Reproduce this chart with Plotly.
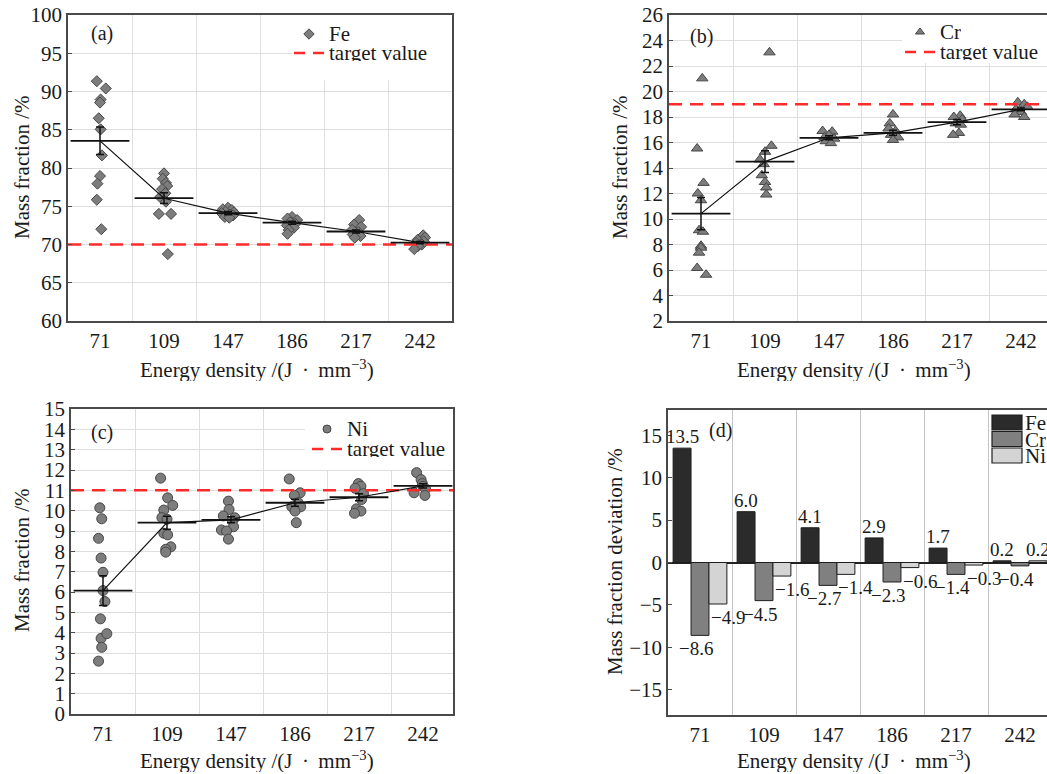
import plotly.graph_objects as go

W, H = 1047, 774
FONT = "Liberation Serif"
TXT = "#1a1a1a"

# ---------------- data ----------------
categories = ["71", "109", "147", "186", "217", "242"]

fe_points = [
    [91.35, 90.4, 88.95, 88.55, 86.5, 85.05, 81.65, 78.95, 77.95, 75.85, 72.0],
    [79.3, 78.6, 78.05, 77.65, 77.25, 76.7, 76.2, 75.6, 74.0, 74.0, 68.75],
    [74.8, 74.6, 74.5, 74.3, 74.2, 74.1, 73.9, 73.8, 73.6, 73.5],
    [73.6, 73.4, 73.2, 72.9, 72.7, 72.5, 72.2, 71.9, 71.4],
    [73.2, 72.6, 72.3, 71.9, 71.6, 71.3, 71.1, 70.9],
    [71.2, 70.9, 70.6, 70.4, 70.2, 70.0, 69.8, 69.4],
]
fe_jitter = [
    [-0.05, 0.09, 0.01, 0.0, -0.02, 0.01, 0.03, 0.0, -0.04, -0.05, 0.02],
    [0.0, -0.02, 0.03, 0.05, -0.03, 0.02, -0.06, 0.03, -0.08, 0.11, 0.06],
    [0.0, -0.08, 0.06, -0.04, 0.09, -0.1, 0.03, 0.08, -0.05, 0.02],
    [0.0, -0.07, 0.08, -0.03, 0.05, -0.08, 0.03, -0.05, -0.07],
    [0.05, -0.03, 0.08, -0.06, 0.04, -0.05, 0.07, -0.02],
    [0.05, 0.08, -0.04, 0.06, -0.06, 0.03, -0.03, -0.09],
]
fe_mean = [83.55, 76.05, 74.1, 72.85, 71.7, 70.25]
fe_err = [1.8, 0.7, 0.2, 0.2, 0.2, 0.15]
fe_target = 70

cr_points = [
    [21.03, 15.53, 12.83, 12.0, 11.47, 9.12, 9.0, 7.9, 7.75, 7.36, 6.16, 5.63],
    [23.07, 15.74, 15.27, 14.67, 14.3, 13.43, 12.9, 12.47, 11.92],
    [16.9, 16.85, 16.6, 16.4, 16.3, 16.1, 15.95],
    [18.2, 17.5, 17.1, 16.9, 16.6, 16.4, 16.2],
    [18.1, 18.0, 17.8, 17.5, 17.4, 16.75, 16.6],
    [19.15, 19.0, 18.8, 18.6, 18.4, 18.2, 18.0],
]
cr_jitter = [
    [0.02, -0.06, 0.04, -0.05, 0.0, -0.03, 0.03, 0.0, 0.0, -0.03, -0.06, 0.08],
    [0.07, 0.1, 0.0, -0.08, -0.02, -0.05, 0.0, 0.02, 0.02],
    [-0.1, 0.05, 0.0, -0.07, 0.08, -0.05, 0.03],
    [0.0, -0.05, -0.07, 0.04, -0.03, 0.08, 0.0],
    [0.05, -0.05, 0.08, -0.02, 0.06, 0.03, -0.06],
    [-0.05, 0.05, 0.1, -0.08, 0.0, -0.1, 0.05],
]
cr_mean = [10.42, 14.5, 16.37, 16.76, 17.6, 18.6]
cr_err = [1.27, 0.85, 0.15, 0.2, 0.2, 0.1]
cr_target = 19

ni_points = [
    [10.14, 9.6, 8.64, 7.67, 6.97, 6.07, 5.53, 4.68, 3.72, 3.95, 3.28, 2.6],
    [11.6, 10.63, 10.26, 10.03, 9.66, 9.58, 8.89, 8.81, 8.22, 8.1, 7.96],
    [10.47, 10.06, 9.74, 9.65, 9.5, 9.21, 9.05, 9.0, 8.6],
    [11.56, 10.88, 10.75, 10.39, 10.19, 10.19, 9.98, 9.41],
    [11.33, 11.2, 11.1, 10.84, 10.55, 10.09, 9.98, 9.87],
    [11.87, 11.53, 11.33, 11.2, 11.07, 10.88, 10.75],
]
ni_jitter = [
    [-0.05, -0.02, -0.07, -0.03, 0.0, 0.0, 0.03, -0.04, -0.03, 0.06, -0.02, -0.07],
    [-0.1, 0.01, 0.09, -0.05, -0.08, 0.0, -0.05, 0.01, 0.06, -0.02, -0.02],
    [-0.04, -0.03, -0.12, 0.06, 0.02, 0.04, -0.15, -0.07, -0.04],
    [-0.09, 0.08, -0.01, 0.05, -0.05, 0.09, 0.0, 0.02],
    [-0.01, 0.03, -0.06, 0.07, 0.04, -0.04, 0.03, -0.07],
    [-0.1, -0.03, -0.01, 0.0, 0.04, -0.14, 0.03],
]
ni_mean = [6.07, 9.41, 9.55, 10.39, 10.66, 11.22]
ni_err = [0.73, 0.32, 0.15, 0.17, 0.17, 0.1]
ni_target = 11

dev_series = ["Fe", "Cr", "Ni"]
dev_fe = [13.5, 6.0, 4.1, 2.9, 1.7, 0.2]
dev_cr = [-8.6, -4.5, -2.7, -2.3, -1.4, -0.4]
dev_ni = [-4.9, -1.6, -1.4, -0.6, -0.3, 0.2]

# ---------------- layout helpers ----------------
def dx(px):
    return px / W


def dy(px):
    return 1 - px / H


panels = {
    # name: (left, right, top, bottom) in pixels
    "a": (68, 452, 15, 321),
    "b": (669, 1053, 15, 321),
    "c": (71, 453, 409, 714),
    "d": (668, 1052, 410, 715),
}
yranges = {"a": [60, 100], "b": [2, 26], "c": [0, 15], "d": [-18, 18]}
cat_px = 64.0

fig = go.Figure()
ncat = len(categories)
cat_idx = list(range(ncat))


def x_range(panel):
    l, r, t, b = panels[panel]
    right = min(r, W)
    return [-0.5, -0.5 + (right - l) / cat_px]


def x_domain(panel):
    l, r, t, b = panels[panel]
    return [dx(l), dx(min(r, W))]


def y_domain(panel):
    l, r, t, b = panels[panel]
    return [dy(b), dy(t)]


def px_to_data(panel, px, py):
    l, r, t, b = panels[panel]
    y0, y1 = yranges[panel]
    return -0.5 + (px - l) / cat_px, y1 - (py - t) * (y1 - y0) / (b - t)


frame = "#4a4a4a"
grid = "#dedede"
tickfont = dict(family=FONT, size=21, color=TXT)


def add_axes(n, panel, dtick, tick0, hgrid=True, right_open=False, vgrid_color=grid):
    yr = yranges[panel]
    xa = dict(
        domain=x_domain(panel), range=x_range(panel), anchor="y%d" % n if n > 1 else "y",
        tickmode="array", tickvals=cat_idx, ticktext=categories, showgrid=False,
        zeroline=False, showline=True, linecolor=frame, linewidth=1.5,
        mirror=True, ticks="", tickfont=tickfont, automargin=False,
        minor=dict(tickvals=[i + 0.5 for i in cat_idx[:-1]], showgrid=True,
                   gridcolor=vgrid_color, gridwidth=1, ticks=""),
        fixedrange=True,
    )
    ya = dict(
        domain=y_domain(panel), range=yr, anchor="x%d" % n if n > 1 else "x",
        dtick=dtick, tick0=tick0, showgrid=hgrid, gridcolor=grid, gridwidth=1,
        zeroline=False, showline=True, linecolor=frame, linewidth=1.5,
        mirror=False if right_open else True, ticks="inside", ticklen=4,
        tickcolor=frame, tickfont=tickfont, fixedrange=True, automargin=False,
    )
    suffix = "" if n == 1 else str(n)
    fig.update_layout(**{"xaxis" + suffix: xa, "yaxis" + suffix: ya})


add_axes(1, "a", 5, 60)
add_axes(2, "b", 2, 2, right_open=True)
add_axes(3, "c", 1, 0)
add_axes(4, "d", 5, 0, hgrid=False, right_open=True, vgrid_color="#c4c4c4")
fig.update_layout(yaxis4=dict(zeroline=True, zerolinecolor="#222222", zerolinewidth=1.5))

# overlay pixel axes for legends / titles
fig.update_layout(
    xaxis5=dict(domain=[0, 1], range=[0, W], visible=False, anchor="y5", fixedrange=True,
                automargin=False),
    yaxis5=dict(domain=[0, 1], range=[H, 0], visible=False, anchor="x5", fixedrange=True,
                automargin=False),
)

pt_fill = "#7d7d7d"
pt_line = "#474747"

# legend placement: panel, axis n, bg left px, bg bottom px, marker x, row1 y, row2 y, symbol, label
legends = [
    ("a", 1, 292, 80, 309, 34, 53, "diamond", "Fe"),
    ("b", 2, 902, 63, 920, 32, 52, "triangle-up", "Cr"),
    ("c", 3, 305, 470, 327, 429, 449, "circle", "Ni"),
]


def scatter_panel(n, points, jitter, mean, err, target, symbol, size, panel, leg):
    xr = "x" if n == 1 else "x%d" % n
    yr = "y" if n == 1 else "y%d" % n
    # white legend background (covers gridlines only)
    _, _, bl, bb, *_ = leg
    l, r, t, b = panels[panel]
    x0, y0 = px_to_data(panel, bl, bb)
    x1, y1 = px_to_data(panel, r + 5, t - 5)
    fig.add_trace(go.Scatter(
        x=[x0, x1, x1, x0, x0], y=[y0, y0, y1, y1, y0], mode="lines", fill="toself",
        fillcolor="white", line=dict(width=0, color="white"), xaxis=xr, yaxis=yr,
        showlegend=False, hoverinfo="skip",
    ))
    xs, ys = [], []
    for k in cat_idx:
        for v, j in zip(points[k], jitter[k]):
            xs.append(k + j)
            ys.append(v)
    fig.add_trace(go.Scatter(
        x=xs, y=ys, mode="markers", xaxis=xr, yaxis=yr, showlegend=False,
        marker=dict(symbol=symbol, size=size, color=pt_fill, line=dict(color=pt_line, width=1)),
    ))
    rng = x_range(panel)
    fig.add_trace(go.Scatter(
        x=[rng[0], rng[0] + 6], y=[target, target], mode="lines", xaxis=xr, yaxis=yr,
        showlegend=False, line=dict(color="#ff2b2b", width=2.5, dash="13px,8px"),
    ))
    fig.add_trace(go.Scatter(
        x=cat_idx, y=mean, mode="lines+markers", xaxis=xr, yaxis=yr, showlegend=False,
        line=dict(color="#111111", width=1.2),
        marker=dict(symbol="line-ew", size=42, color="#111111",
                    line=dict(color="#111111", width=1.8)),
        error_y=dict(type="data", array=err, color="#111111", thickness=1.5, width=4),
    ))


scatter_panel(1, fe_points, fe_jitter, fe_mean, fe_err, fe_target, "diamond", 8.5, "a", legends[0])
scatter_panel(2, cr_points, cr_jitter, cr_mean, cr_err, cr_target, "triangle-up", 10, "b", legends[1])
scatter_panel(3, ni_points, ni_jitter, ni_mean, ni_err, ni_target, "circle", 10, "c", legends[2])

# bars (d)
bar_colors = ["#2b2b2b", "#808080", "#d4d4d4"]
dev_values = [dev_fe, dev_cr, dev_ni]
for name, vals, col in zip(dev_series, dev_values, bar_colors):
    fig.add_trace(go.Bar(
        x=cat_idx, y=vals, name=name, xaxis="x4", yaxis="y4", showlegend=False,
        marker=dict(color=col, line=dict(color="#1e1e1e", width=1)),
    ))
fig.update_layout(barmode="group", bargap=0.16, bargroupgap=0)

annotations = []
shapes = []
label_font = dict(family=FONT, size=19, color=TXT)
bar_w = (1 - 0.16) / 3
label_xshift = [0, -4, 10]
for s, vals in enumerate(dev_values):
    for k, v in enumerate(vals):
        pos = v >= 0
        annotations.append(dict(
            x=k + (s - 1) * bar_w, y=v, xref="x4", yref="y4",
            text=("%.1f" % v).replace("-", "\u2212"), showarrow=False,
            yanchor="bottom" if pos else "top", xanchor="center",
            xshift=0 if pos else label_xshift[s], yshift=0 if pos else -2,
            font=label_font, borderpad=0,
        ))

# panel letters
for txt, x, y in [("(a)", 102, 33), ("(b)", 701, 36), ("(c)", 102, 432), ("(d)", 720, 430)]:
    annotations.append(dict(x=x, y=y, xref="x5", yref="y5", text=txt, showarrow=False,
                            font=dict(family=FONT, size=20, color=TXT)))

# axis titles
title_font = dict(family=FONT, size=21, color=TXT)
xtitle = "Energy density /(J\u2009 \u00b7 \u2009mm<sup>\u22123</sup>)"
for x, y in [(257, 369), (854, 369), (257, 760), (854, 760)]:
    annotations.append(dict(x=x, y=y, xref="x5", yref="y5", text=xtitle, showarrow=False,
                            font=title_font, height=24, valign="middle", borderpad=0))
for x, y, t in [(22, 168, "Mass fraction /%"), (620, 168, "Mass fraction /%"),
                (22, 561, "Mass fraction /%"), (615, 562, "Mass fraction deviation /%")]:
    annotations.append(dict(x=x, y=y, xref="x5", yref="y5", text=t, showarrow=False,
                            textangle=-90, font=title_font))

# legends for (a)(b)(c)
leg_font = dict(family=FONT, size=21, color=TXT)
for panel, n, bl, bb, mx, r1, r2, sym, lab in legends:
    fig.add_trace(go.Scatter(x=[mx], y=[r1], xaxis="x5", yaxis="y5", mode="markers",
                             showlegend=False,
                             marker=dict(symbol=sym, size=8, color=pt_fill,
                                         line=dict(color=pt_line, width=1))))
    fig.add_trace(go.Scatter(x=[mx - 15, mx + 15], y=[r2, r2], xaxis="x5", yaxis="y5",
                             mode="lines", showlegend=False,
                             line=dict(color="#ff2b2b", width=2.5, dash="11px,8px")))
    annotations.append(dict(x=mx + 19, y=r1, xref="x5", yref="y5", text=lab, showarrow=False,
                            xanchor="left", font=leg_font, height=16, valign="middle",
                            borderpad=0))
    annotations.append(dict(x=mx + 19, y=r2, xref="x5", yref="y5", text="target value",
                            showarrow=False, xanchor="left", font=leg_font, height=16,
                            valign="middle", borderpad=0))

# legend (d)
for i, (name, col) in enumerate(zip(dev_series, bar_colors)):
    y0 = 415 + 16.5 * i
    shapes.append(dict(type="rect", xref="x5", yref="y5", x0=992, x1=1022, y0=y0, y1=y0 + 15,
                       fillcolor=col, line=dict(color="#1e1e1e", width=1.2)))
    annotations.append(dict(x=1024, y=y0 + 7.5, xref="x5", yref="y5", text=name,
                            showarrow=False, xanchor="left", font=leg_font, height=15,
                            valign="middle", borderpad=0))

fig.update_layout(
    width=W, height=H, margin=dict(l=0, r=0, t=0, b=0, pad=0, autoexpand=False),
    paper_bgcolor="white", plot_bgcolor="rgba(0,0,0,0)",
    annotations=annotations, shapes=shapes, showlegend=False,
    font=dict(family=FONT, color=TXT),
)

fig.write_html("out.html")
